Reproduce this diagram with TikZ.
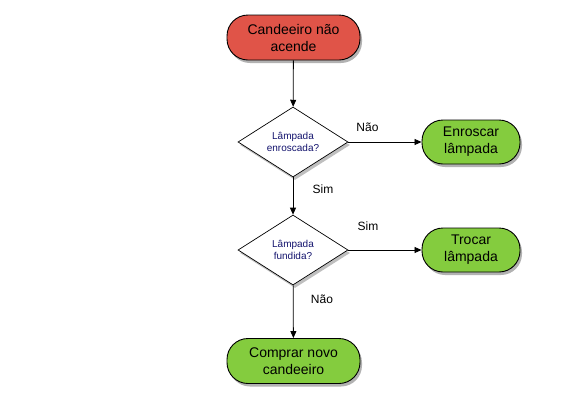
\documentclass[tikz,border=0pt]{standalone}
\usepackage{fontspec}
\setmainfont{Liberation Sans}
\usetikzlibrary{shapes.geometric,shadows,arrows.meta,positioning}
\definecolor{startred}{RGB}{224,84,72}
\definecolor{endgreen}{RGB}{132,204,62}
\definecolor{qblue}{RGB}{20,20,110}
\begin{document}
\begin{tikzpicture}[x=1pt,y=-1pt,
  term/.style={draw=black,line width=0.9pt,rounded corners=21pt,minimum width=133pt,minimum height=45pt,
    align=center,font=\fontsize{14}{17}\selectfont,inner sep=0pt,
    drop shadow={shadow xshift=2pt,shadow yshift=-3pt,opacity=0.3,fill=black}},
  redterm/.style={term,fill=startred},
  greenterm/.style={term,fill=endgreen},
  smallterm/.style={greenterm,minimum width=98pt,minimum height=44pt},
  decision/.style={diamond,draw=black,line width=0.7pt,fill=white,aspect=1.57,minimum width=110pt,minimum height=70pt,
    inner sep=0pt,align=center,text=qblue,font=\fontsize{10}{12.5}\selectfont,
    drop shadow={shadow xshift=2pt,shadow yshift=-3pt,opacity=0.25,fill=black}},
  conn/.style={draw=black,line width=0.8pt,-{Triangle[length=7pt,width=6pt]}},
  lbl/.style={font=\fontsize{12}{14}\selectfont,inner sep=0pt}
]
\useasboundingbox (0,0) rectangle (566,413);
\fill[white] (0,0) rectangle (566,413);
\node[redterm] (start) at (293.5,37.5) {Candeeiro não\\acende};
\node[decision] (q1) at (293,142) {Lâmpada\\enroscada?};
\node[smallterm] (enr) at (471,142) {Enroscar\\lâmpada};
\node[decision] (q2) at (293,250) {Lâmpada\\fundida?};
\node[smallterm] (troc) at (471,250) {Trocar\\lâmpada};
\node[greenterm] (comp) at (293.5,361) {Comprar novo\\candeeiro};
\draw[conn] (start) -- (q1);
\draw[conn] (q1) -- (enr);
\draw[conn] (q1) -- (q2);
\draw[conn] (q2) -- (troc);
\draw[conn] (q2) -- (comp);
\node[lbl] (l1) at (367.5,127) {Não};
\node[lbl] (l2) at (323,189) {Sim};
\node[lbl] (l3) at (368,226) {Sim};
\node[lbl] (l4) at (322,299) {Não};
\end{tikzpicture}
\end{document}
